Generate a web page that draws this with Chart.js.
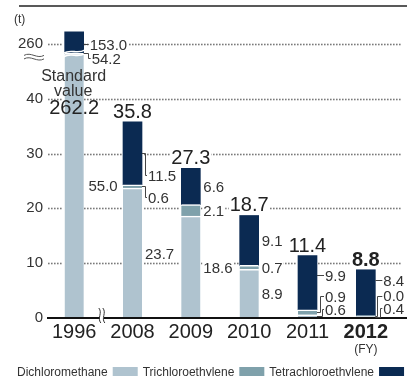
<!DOCTYPE html>
<html><head><meta charset="utf-8">
<script src="https://cdn.jsdelivr.net/npm/chart.js@4.4.1/dist/chart.umd.min.js"></script>
<style>html,body{margin:0;padding:0;background:#fff}#wrap{width:407px;height:376px;position:relative}</style>
</head><body><div id="wrap"><canvas id="c" width="407" height="376"></canvas></div>
<script>
// ---------- data ----------
const categories = ['1996', '2008', '2009', '2010', '2011', '2012'];
const dichloromethane = [55.0, 23.7, 18.6, 8.9, 0.6, 0.4];
const trichloroethylene = [54.2, 0.6, 2.1, 0.7, 0.9, 0.0];
const tetrachloroethylene = [153.0, 11.5, 6.6, 9.1, 9.9, 8.4];
const totals = [262.2, 35.8, 27.3, 18.7, 11.4, 8.8];
const yTickValues = [0, 10, 20, 30, 40, 260];
const seriesNames = ['Dichloromethane', 'Trichloroethylene', 'Tetrachloroethylene'];
const unitLabel = '(t)';
const periodLabel = '(FY)';
const standardNote = ['Standard', 'value'];

// ---------- axis break (values between BREAK_AT and BREAK_AT+BREAK_GAP are hidden) ----------
const BREAK_AT = 48.3, BREAK_GAP = 210;
function toAxis(v) { if (v <= BREAK_AT) return v; if (v >= BREAK_AT + BREAK_GAP) return v - BREAK_GAP; return BREAK_AT; }

// ---------- styles ----------
const FONT = '"Liberation Sans", Arial, Helvetica, sans-serif';
const colors = ['#afc3cf', '#7fa1ab', '#0b2a52'];
const textDark = '#222';
const textMid = '#333';
const linkCol = '#444';
const gridCol = '#7a7a7a';
const highlightIndex = categories.length - 1;
// label placement tweaks, keyed "series-category"
const labelLayout = {
  '0-0': { dx: 34, align: 'right' },
  '1-0': { dy: 5, link: 'bracket', ex: 4, dx: 8 },
  '2-0': { dy: 1.5, link: 'leader', dx: 6 },
  '1-1': { dy: 11, link: 'bracket', ex: 3, dx: 6 },
  '2-1': { dy: 22, link: 'bracket', ex: 3, dx: 6 },
  '0-4': { dy: -7, link: 'bracket', ex: 5, dx: 8 },
  '1-4': { dy: -16, link: 'bracket', ex: 3, dx: 8 },
  '2-4': { dy: -7.5, link: 'leader', dx: 8 },
  '0-5': { dy: -8.5, link: 'bracket', ex: 5, dx: 8 },
  '1-5': { dy: -20, link: 'bracket', ex: 2, dx: 8 },
  '2-5': { dy: -12.7, link: 'leader', dx: 8 }
};
const totalInsideAt = { 0: 37.3 };

const series = [dichloromethane, trichloroethylene, tetrachloroethylene];
function baseOf(si, ci) { let b = 0; for (let k = 0; k < si; k++) b += series[k][ci]; return b; }

const datasets = series.map((s, si) => ({
  label: seriesNames[si],
  data: s.map((v, ci) => toAxis(baseOf(si, ci) + v) - toAxis(baseOf(si, ci))),
  backgroundColor: colors[si],
  borderColor: '#ffffff',
  borderWidth: si < 2 ? { top: 1.5, right: 0, bottom: 0, left: 0 } : 0,
  borderSkipped: false,
  barThickness: 19,
  stack: 's'
}));

function textWithBg(ctx, txt, x, y, align, bg) {
  ctx.textAlign = align;
  const w = ctx.measureText(txt).width;
  if (bg) {
    const left = align === 'right' ? x - w : (align === 'center' ? x - w / 2 : x);
    const m = ctx.measureText('0');
    const asc = m.actualBoundingBoxAscent || 10;
    ctx.save(); ctx.fillStyle = '#fff';
    ctx.fillRect(left - 1, y - asc - 2, w + 2, asc + 4);
    ctx.restore();
  }
  ctx.fillText(txt, x, y);
}

const decor = {
  id: 'decor',
  afterDatasetsDraw(chart) {
    const ctx = chart.ctx, ys = chart.scales.y, xs = chart.scales.x, area = chart.chartArea;
    ctx.save();
    // dotted gridlines, kept out of the bars
    const rects = [];
    series.forEach((s, si) => chart.getDatasetMeta(si).data.forEach(b => {
      rects.push({ l: b.x - b.width / 2, r: b.x + b.width / 2, t: Math.min(b.y, b.base), bt: Math.max(b.y, b.base) });
    }));
    ctx.fillStyle = gridCol;
    yTickValues.forEach(v => {
      if (v === 0) return;
      const py = Math.round(ys.getPixelForValue(toAxis(v)));
      for (let x = 48; x < 402; x += 3) {
        const hit = rects.some(rc => x >= rc.l - 2 && x <= rc.r && py >= rc.t - 1 && py <= rc.bt);
        if (!hit) ctx.fillRect(x, py - 0.3, 1.6, 1.6);
      }
    });
    // break across the tall bar
    categories.forEach((c, ci) => {
      if (totals[ci] <= BREAK_AT + BREAK_GAP) return;
      const bar = chart.getDatasetMeta(0).data[ci];
      const by = ys.getPixelForValue(BREAK_AT);
      const l = bar.x - bar.width / 2 - 1, r = bar.x + bar.width / 2 + 1;
      ctx.strokeStyle = '#fff'; ctx.lineWidth = 1.6;
      [-1.6, 2.0].forEach(off => {
        ctx.beginPath();
        ctx.moveTo(l, by + off + 1.5);
        ctx.bezierCurveTo(l + (r - l) * 0.35, by + off - 3, l + (r - l) * 0.65, by + off + 3, r, by + off - 1.5);
        ctx.stroke();
      });
    });
    // x axis line
    const ay = area.bottom;
    ctx.strokeStyle = '#111'; ctx.lineWidth = 2;
    ctx.beginPath(); ctx.moveTo(47, ay); ctx.lineTo(chart.width, ay); ctx.stroke();
    // x axis break between first and second category
    const bx = (xs.getPixelForValue(0) + xs.getPixelForValue(1)) / 2 - 1.5;
    ctx.fillStyle = '#fff'; ctx.fillRect(bx - 2, ay - 2, 4, 4);
    ctx.strokeStyle = '#333'; ctx.lineWidth = 1;
    [-2, 2].forEach(o => {
      ctx.beginPath();
      ctx.moveTo(bx + o - 1, ay - 10);
      ctx.bezierCurveTo(bx + o + 3, ay - 5, bx + o - 3, ay + 0, bx + o + 1, ay + 5);
      ctx.stroke();
    });
    // y axis break marks under the top tick
    const ty = ys.getPixelForValue(toAxis(yTickValues[yTickValues.length - 1]));
    ctx.strokeStyle = '#555'; ctx.lineWidth = 1;
    [11.5, 15].forEach(o => {
      ctx.beginPath();
      ctx.moveTo(24, ty + o);
      ctx.bezierCurveTo(31, ty + o - 4, 37, ty + o + 4, 44, ty + o);
      ctx.stroke();
    });
    // top rule
    ctx.strokeStyle = '#222'; ctx.lineWidth = 1.5;
    ctx.beginPath(); ctx.moveTo(19, 6); ctx.lineTo(chart.width, 6); ctx.stroke();
    // unit label
    ctx.fillStyle = textMid; ctx.font = `12px ${FONT}`; ctx.textAlign = 'left'; ctx.textBaseline = 'alphabetic';
    ctx.fillText(unitLabel, 14, 22.5);
    // FY label
    ctx.textAlign = 'center';
    ctx.fillText(periodLabel, xs.getPixelForValue(highlightIndex), 353);

    // segment labels
    ctx.font = `15px ${FONT}`; ctx.fillStyle = textMid;
    series.forEach((s, si) => {
      const meta = chart.getDatasetMeta(si);
      s.forEach((v, ci) => {
        const bar = meta.data[ci];
        const barRight = bar.x + bar.width / 2;
        const b = baseOf(si, ci);
        const midY = ys.getPixelForValue((toAxis(b) + toAxis(b + v)) / 2);
        const L = labelLayout[si + '-' + ci] || {};
        const ly = midY + (L.dy || 0);
        const lx = barRight + (L.dx !== undefined ? L.dx : 3);
        const align = L.align || 'left';
        ctx.textBaseline = 'alphabetic';
        const txt = v.toFixed(1);
        const base = ly + 5.5;
        textWithBg(ctx, txt, lx, base, align, true);
        if (L.link) {
          ctx.save(); ctx.strokeStyle = linkCol; ctx.lineWidth = 1; ctx.setLineDash([]);
          ctx.beginPath();
          const ry = Math.round(ly) + 0.5;
          if (L.link === 'leader') {
            ctx.moveTo(barRight, ry); ctx.lineTo(lx - 1, ry);
          } else {
            const ex = Math.round(barRight + L.ex) + 0.5;
            const my = Math.round(midY) + 0.5;
            ctx.moveTo(barRight, my); ctx.lineTo(ex, my); ctx.lineTo(ex, ry); ctx.lineTo(lx - 1, ry);
          }
          ctx.stroke(); ctx.restore();
        }
      });
    });

    // totals
    ctx.textBaseline = 'alphabetic';
    const topMeta = chart.getDatasetMeta(series.length - 1);
    totals.forEach((t, ci) => {
      const bar = topMeta.data[ci];
      const bold = ci === highlightIndex;
      ctx.font = `${bold ? 'bold ' : ''}20px ${FONT}`;
      ctx.fillStyle = textDark;
      if (totalInsideAt[ci] !== undefined) {
        const base = ys.getPixelForValue(totalInsideAt[ci]);
        ctx.textAlign = 'center';
        ctx.fillText(t.toFixed(1), bar.x, base);
        ctx.font = `16px ${FONT}`; ctx.fillStyle = textMid;
        ctx.fillText(standardNote[1], bar.x - 1, base - 18);
        ctx.fillText(standardNote[0], bar.x - 0.5, base - 33);
      } else {
        const top = ys.getPixelForValue(toAxis(t));
        textWithBg(ctx, t.toFixed(1), bar.x, top - 4, 'center', true);
      }
    });

    // legend: text then swatch
    ctx.font = `12px ${FONT}`; ctx.textAlign = 'left'; ctx.textBaseline = 'alphabetic';
    let lx = 17;
    seriesNames.forEach((n, i) => {
      ctx.fillStyle = textMid;
      ctx.fillText(n, lx, 376);
      lx += ctx.measureText(n).width + 5;
      ctx.fillStyle = colors[i];
      ctx.fillRect(lx, 367, 25, 11);
      lx += 25 + 5;
    });
    ctx.restore();
  }
};

new Chart(document.getElementById('c'), {
  type: 'bar',
  data: { labels: categories, datasets },
  options: {
    responsive: false, animation: false, devicePixelRatio: 1,
    layout: { padding: { top: 10, right: 12, left: 0, bottom: 0 } },
    plugins: { legend: { display: false }, tooltip: { enabled: false } },
    scales: {
      x: {
        stacked: true, offset: true,
        grid: { display: false, drawTicks: false }, border: { display: false },
        ticks: {
          padding: 2, color: textDark, maxRotation: 0, autoSkip: false,
          font: (c) => ({ family: FONT, size: 20, weight: c.index === highlightIndex ? 'bold' : 'normal' })
        },
        afterFit: (s) => { s.height = 58; }
      },
      y: {
        stacked: true, min: 0, max: 56,
        grid: { display: false, drawTicks: false }, border: { display: false },
        afterBuildTicks: (s) => { s.ticks = yTickValues.map(v => ({ value: toAxis(v) })); },
        ticks: {
          padding: 2, color: textMid, font: { family: FONT, size: 15 },
          callback: (val, i) => String(yTickValues[i])
        },
        afterFit: (s) => { s.width = 45; }
      }
    }
  },
  plugins: [decor]
});
</script>
</body></html>
